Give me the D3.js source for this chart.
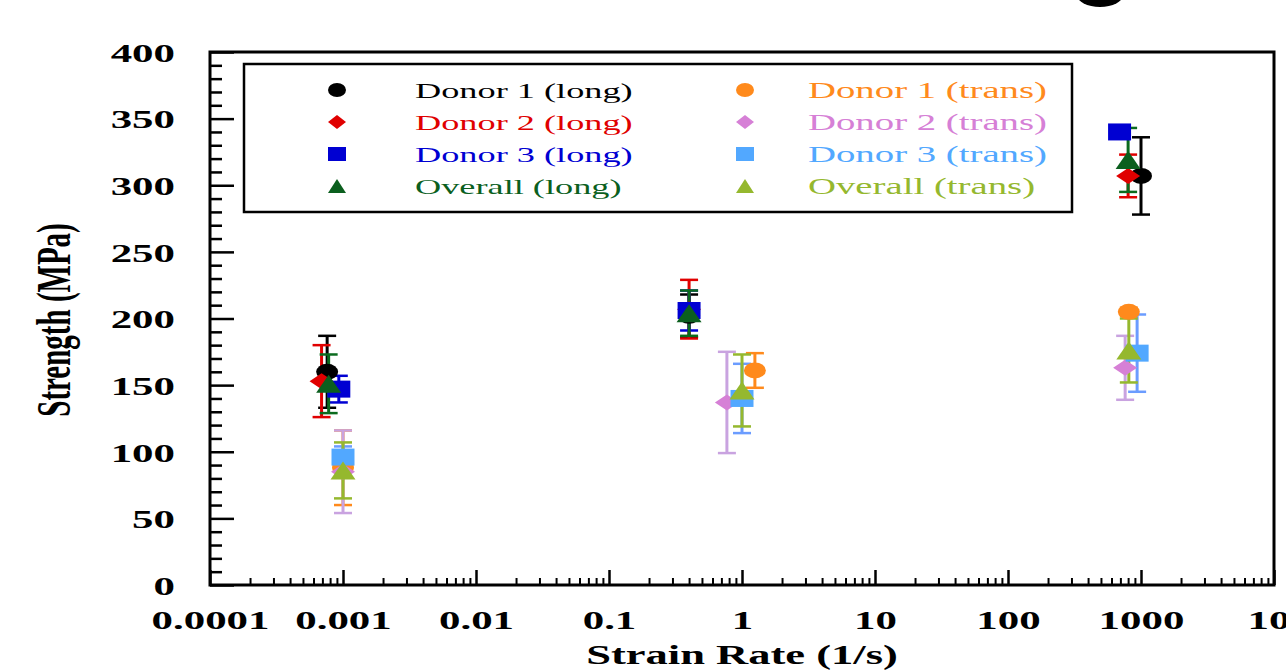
<!DOCTYPE html>
<meta charset="utf-8">
<head>
  <title>Strength vs strain rate</title>
</head>

<style>
  body { margin: 0; background: #fff; }
  text { font-family: "Liberation Serif", "Times New Roman", serif; }
</style>

<body>
  <svg width="1286" height="670"></svg>

  <script src="https://cdnjs.cloudflare.com/ajax/libs/d3/7.8.5/d3.min.js"></script>

  <script>
  // ---- data ----
  var seriesNames = ["Donor 1 (long)", "Donor 2 (long)", "Donor 3 (long)", "Overall (long)",
                     "Donor 1 (trans)", "Donor 2 (trans)", "Donor 3 (trans)", "Overall (trans)"];
  var seriesShapes = ["circle", "diamond", "square", "triangle",
                      "circle", "diamond", "square", "triangle"];

  // strain rate (1/s) of each point
  var rates = [
    [7.6e-4, 0.40, 1000],
    [6.9e-4, 0.40, 800],
    [9.3e-4, 0.40, 690],
    [7.8e-4, 0.40, 800],
    [1.0e-3, 1.25, 810],
    [1.0e-3, 0.77, 760],
    [1.0e-3, 1.00, 935],
    [1.0e-3, 1.00, 810]
  ];
  // strength (MPa)
  var strengths = [
    [160, 202, 307],
    [153, 207, 307],
    [147, 206, 340],
    [151, 204, 319],
    [88, 161, 205],
    [85, 137, 163],
    [96, 140, 174],
    [86, 146, 176]
  ];
  // error (+/- MPa)
  var errors = [
    [27, 16, 29],
    [27, 22, 16],
    [10, 15, 3],
    [22, 17, 24],
    [28, 13, 3],
    [31, 38, 24],
    [8, 26, 29],
    [21, 27, 24]
  ];

  var yTicks = [0, 50, 100, 150, 200, 250, 300, 350, 400];
  var xTicks = [1e-4, 1e-3, 1e-2, 1e-1, 1, 10, 100, 1000, 1e4];
  var xTickLabels = ["0.0001", "0.001", "0.01", "0.1", "1", "10", "100", "1000", "10000"];

  // ---- styles ----
  var markColors = ["#000000", "#e00000", "#0000d2", "#0b5f1e",
                    "#ff8a1c", "#d680d6", "#52a8ff", "#95b82e"];
  var barColors  = ["#000000", "#e00000", "#0000d2", "#0b6b1e",
                    "#ff8a1c", "#c9a3e0", "#6b9cff", "#95b82e"];
  var SX = 1.65; // the picture is stretched sideways

  var svg = d3.select("svg");

  var x = d3.scaleLog().domain([1e-4, 1e4]).range([210, 1274]);
  var y = d3.scaleLinear().domain([0, 400]).range([585, 52]);

  // minor ticks
  var yMinor = d3.range(0, 400, 10).filter(function(v) { return v % 50 != 0; });
  var xMinor = [];
  xTicks.slice(0, -1).forEach(function(d) {
    for (var k = 2; k <= 9; k++) xMinor.push(d * k);
  });

  svg.append("g")
    .attr("transform", "translate(210,0)")
    .call(d3.axisLeft(y).tickValues(yMinor).tickSize(-12).tickFormat(""))
    .call(function(g) { g.select(".domain").remove(); })
    .selectAll("line").attr("stroke-width", 2.5);

  svg.append("g")
    .attr("transform", "translate(0,585)")
    .call(d3.axisBottom(x).tickValues(xMinor).tickSize(-7).tickFormat(""))
    .call(function(g) { g.select(".domain").remove(); })
    .selectAll("line").attr("stroke-width", 2);

  // major ticks + labels
  var yAxis = svg.append("g")
    .attr("transform", "translate(210,0)")
    .call(d3.axisLeft(y).tickValues(yTicks).tickSize(-24).tickPadding(35))
    .call(function(g) { g.select(".domain").remove(); });
  yAxis.selectAll("line").attr("stroke-width", 2.5);
  yAxis.selectAll("text")
    .attr("font-family", "'Liberation Serif', serif")
    .attr("font-weight", "bold")
    .attr("font-size", 26)
    .attr("fill", "#000")
    .attr("x", -35 / SX)
    .attr("dy", "0.36em")
    .attr("transform", "scale(" + SX + ",1)");

  var xAxis = svg.append("g")
    .attr("transform", "translate(0,585)")
    .call(d3.axisBottom(x).tickValues(xTicks).tickSize(-15)
      .tickFormat(function(d, i) { return xTickLabels[i]; }))
    .call(function(g) { g.select(".domain").remove(); });
  xAxis.selectAll("line").attr("stroke-width", 2.5);
  xAxis.selectAll("text")
    .attr("font-family", "'Liberation Serif', serif")
    .attr("font-weight", "bold")
    .attr("font-size", 26)
    .attr("fill", "#000")
    .attr("y", 44)
    .attr("dy", 0)
    .attr("transform", "scale(" + SX + ",1)");
  // last label sits a little to the right and is cut off by the page
  xAxis.selectAll("text").filter(function(d, i) { return i == xTicks.length - 1; })
    .attr("text-anchor", "start")
    .attr("x", -27 / SX);

  // frame
  svg.append("rect")
    .attr("x", 210).attr("y", 52)
    .attr("width", 1274 - 210).attr("height", 585 - 52)
    .attr("fill", "none").attr("stroke", "#000").attr("stroke-width", 3);

  // axis titles
  svg.append("text")
    .attr("transform", "translate(742,664) scale(" + SX + ",1)")
    .attr("text-anchor", "middle")
    .attr("font-weight", "bold")
    .attr("font-size", 27)
    .text("Strain Rate (1/s)");

  svg.append("text")
    .attr("transform", "translate(70,320) scale(" + SX + ",1) rotate(-90)")
    .attr("text-anchor", "middle")
    .attr("font-weight", "bold")
    .attr("font-size", 29)
    .text("Strength (MPa)");

  // piece of a cut off label at the top
  svg.append("ellipse")
    .attr("cx", 1100).attr("cy", -5)
    .attr("rx", 23).attr("ry", 12)
    .attr("fill", "#000");

  function shapePath(type, w, h) {
    var a = w / 2, b = h / 2;
    if (type == "circle")
      return "M" + (-a) + ",0A" + a + "," + b + " 0 1,0 " + a + ",0A" + a + "," + b + " 0 1,0 " + (-a) + ",0Z";
    if (type == "square")
      return "M" + (-a) + "," + (-b) + "H" + a + "V" + b + "H" + (-a) + "Z";
    if (type == "diamond")
      return "M0," + (-b) + "L" + a + ",0L0," + b + "L" + (-a) + ",0Z";
    return "M0," + (-b) + "L" + a + "," + b + "L" + (-a) + "," + b + "Z";
  }
  var shapeSize = {
    circle: [22, 16], square: [23, 17], diamond: [24, 16], triangle: [25, 18]
  };

  // points
  var points = [];
  seriesNames.forEach(function(name, s) {
    rates[s].forEach(function(r, j) {
      points.push({ s: s, rate: r, v: strengths[s][j], e: errors[s][j] });
    });
  });

  var bars = svg.append("g").selectAll("g")
    .data(points)
    .enter().append("g")
    .attr("stroke", function(d) { return barColors[d.s]; });

  bars.append("line")
    .attr("x1", function(d) { return x(d.rate); })
    .attr("x2", function(d) { return x(d.rate); })
    .attr("y1", function(d) { return y(d.v - d.e); })
    .attr("y2", function(d) { return y(d.v + d.e); })
    .attr("stroke-width", 3);

  [-1, 1].forEach(function(sign) {
    bars.append("line")
      .attr("x1", function(d) { return x(d.rate) - 9; })
      .attr("x2", function(d) { return x(d.rate) + 9; })
      .attr("y1", function(d) { return y(d.v + sign * d.e); })
      .attr("y2", function(d) { return y(d.v + sign * d.e); })
      .attr("stroke-width", 2.5);
  });

  svg.append("g").selectAll("path")
    .data(points)
    .enter().append("path")
    .attr("d", function(d) {
      var sz = shapeSize[seriesShapes[d.s]];
      return shapePath(seriesShapes[d.s], sz[0], sz[1]);
    })
    .attr("transform", function(d) { return "translate(" + x(d.rate) + "," + y(d.v) + ")"; })
    .attr("fill", function(d) { return markColors[d.s]; });

  // legend
  svg.append("rect")
    .attr("x", 244).attr("y", 64)
    .attr("width", 1072 - 244).attr("height", 212 - 64)
    .attr("fill", "#fff").attr("stroke", "#000").attr("stroke-width", 2.5);

  var legend = svg.append("g").selectAll("g")
    .data(seriesNames)
    .enter().append("g")
    .attr("transform", function(d, i) {
      var col = Math.floor(i / 4), row = i % 4;
      return "translate(" + (col ? 745 : 337) + "," + (90 + row * 32) + ")";
    });

  legend.append("path")
    .attr("d", function(d, i) { return shapePath(seriesShapes[i], 18, 14); })
    .attr("fill", function(d, i) { return markColors[i]; });

  legend.append("text")
    .attr("transform", function(d, i) { return "translate(" + (i < 4 ? 78 : 63) + ",8) scale(" + SX + ",1)"; })
    .attr("font-size", function(d, i) { return i < 4 ? 22 : 23.5; })
    .attr("fill", function(d, i) { return markColors[i]; })
    .text(function(d) { return d; });
  </script>
</body>
</html>
